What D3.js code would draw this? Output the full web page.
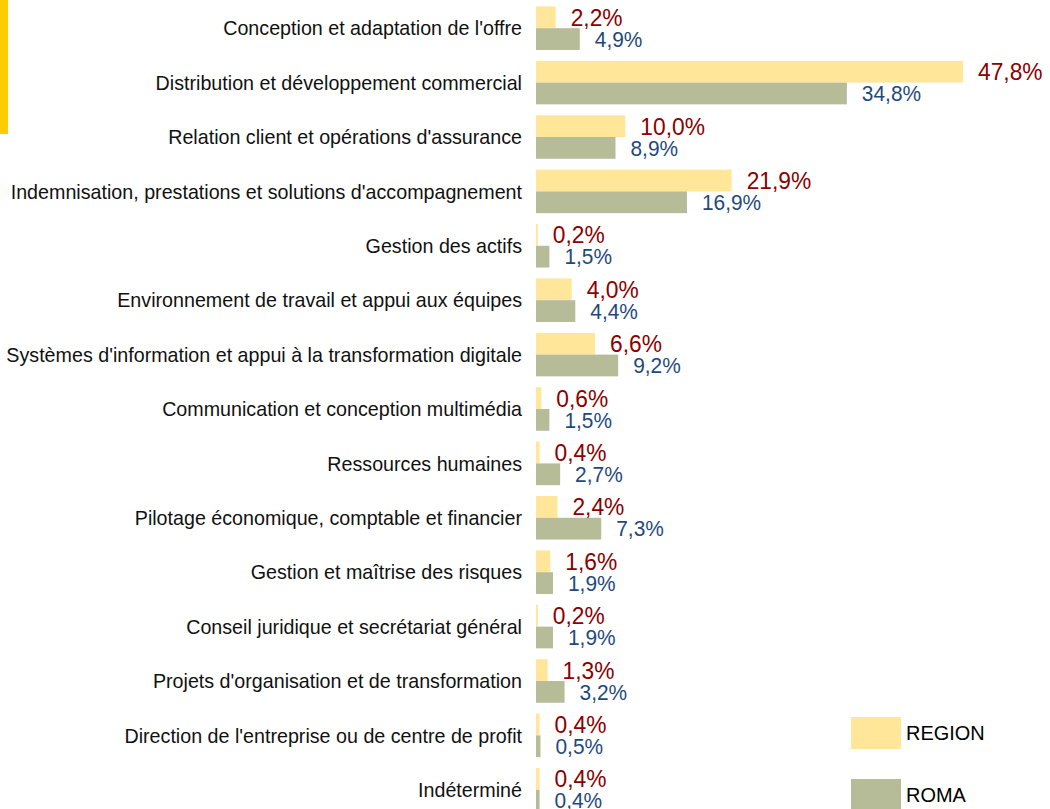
<!DOCTYPE html>
<html>
<head>
<meta charset="utf-8">
<script src="https://cdn.jsdelivr.net/npm/d3@7"></script>
<style>
  body { margin: 0; background: #fff; }
  svg { display: block; font-family: "Liberation Sans", Arial, sans-serif; }
</style>
</head>
<body>
<div id="chart"></div>
<script>
const categories = [
  "Conception et adaptation de l'offre",
  "Distribution et développement commercial",
  "Relation client et opérations d'assurance",
  "Indemnisation, prestations et solutions d'accompagnement",
  "Gestion des actifs",
  "Environnement de travail et appui aux équipes",
  "Systèmes d'information et appui à la transformation digitale",
  "Communication et conception multimédia",
  "Ressources humaines",
  "Pilotage économique, comptable et financier",
  "Gestion et maîtrise des risques",
  "Conseil juridique et secrétariat général",
  "Projets d'organisation et de transformation",
  "Direction de l'entreprise ou de centre de profit",
  "Indéterminé"
];
const series = ["REGION", "ROMA"];
const region = [2.2, 47.8, 10.0, 21.9, 0.2, 4.0, 6.6, 0.6, 0.4, 2.4, 1.6, 0.2, 1.3, 0.4, 0.4];
const roma = [4.9, 34.8, 8.9, 16.9, 1.5, 4.4, 9.2, 1.5, 2.7, 7.3, 1.9, 1.9, 3.2, 0.5, 0.4];

const width = 1050, height = 809;
const colors = {REGION: "#FFE699", ROMA: "#B6BC98"};
const textColors = {REGION: "#8B0000", ROMA: "#1F497D"};
const sx = 0.95; // text looks a bit condensed

const svg = d3.select("#chart").append("svg")
  .attr("width", width)
  .attr("height", height);

// yellow tab on the left edge
svg.append("rect").attr("x", 0).attr("y", 0).attr("width", 8).attr("height", 134).attr("fill", "#FFCC00");

const x = d3.scaleLinear().domain([0, 47.8]).range([536, 963]);

const y = d3.scaleBand()
  .domain(categories)
  .range([1, 817])
  .paddingInner(0.2)
  .paddingOuter(0.1);

const ySub = d3.scaleBand().domain(series).range([0, y.bandwidth()]);

const rows = categories.map((c, i) => ({cat: c, REGION: region[i], ROMA: roma[i]}));

// category labels
svg.append("g")
  .selectAll("text")
  .data(categories)
  .join("text")
  .attr("transform", d => `translate(522,${y(d) + y.bandwidth() / 2}) scale(0.97,1)`)
  .attr("text-anchor", "end")
  .attr("dy", "0.35em")
  .attr("font-size", 20.3)
  .attr("fill", "#111")
  .text(d => d);

const groups = svg.append("g")
  .selectAll("g")
  .data(rows)
  .join("g")
  .attr("transform", d => `translate(0,${y(d.cat)})`);

groups.selectAll("rect")
  .data(d => series.map(s => ({s, v: d[s]})))
  .join("rect")
  .attr("x", x(0))
  .attr("y", d => ySub(d.s))
  .attr("width", d => x(d.v) - x(0))
  .attr("height", ySub.bandwidth())
  .attr("fill", d => colors[d.s]);

groups.selectAll("text")
  .data(d => series.map(s => ({s, v: d[s]})))
  .join("text")
  .attr("transform", d => `translate(${x(d.v) + 15},${ySub(d.s) + ySub.bandwidth() / 2}) scale(${sx},1)`)
  .attr("dy", "0.35em")
  .attr("font-size", d => d.s === "REGION" ? 24 : 22)
  .attr("fill", d => textColors[d.s])
  .text(d => d3.format(".1f")(d.v).replace(".", ",") + "%");

// legend
const legend = svg.append("g")
  .selectAll("g")
  .data(series)
  .join("g")
  .attr("transform", (d, i) => `translate(851,${717 + i * 62})`);

legend.append("rect")
  .attr("width", 50)
  .attr("height", 32)
  .attr("fill", d => colors[d]);

legend.append("text")
  .attr("transform", `translate(55,16) scale(${sx},1)`)
  .attr("dy", "0.35em")
  .attr("font-size", 21)
  .attr("fill", "#000")
  .text(d => d);
</script>
</body>
</html>
